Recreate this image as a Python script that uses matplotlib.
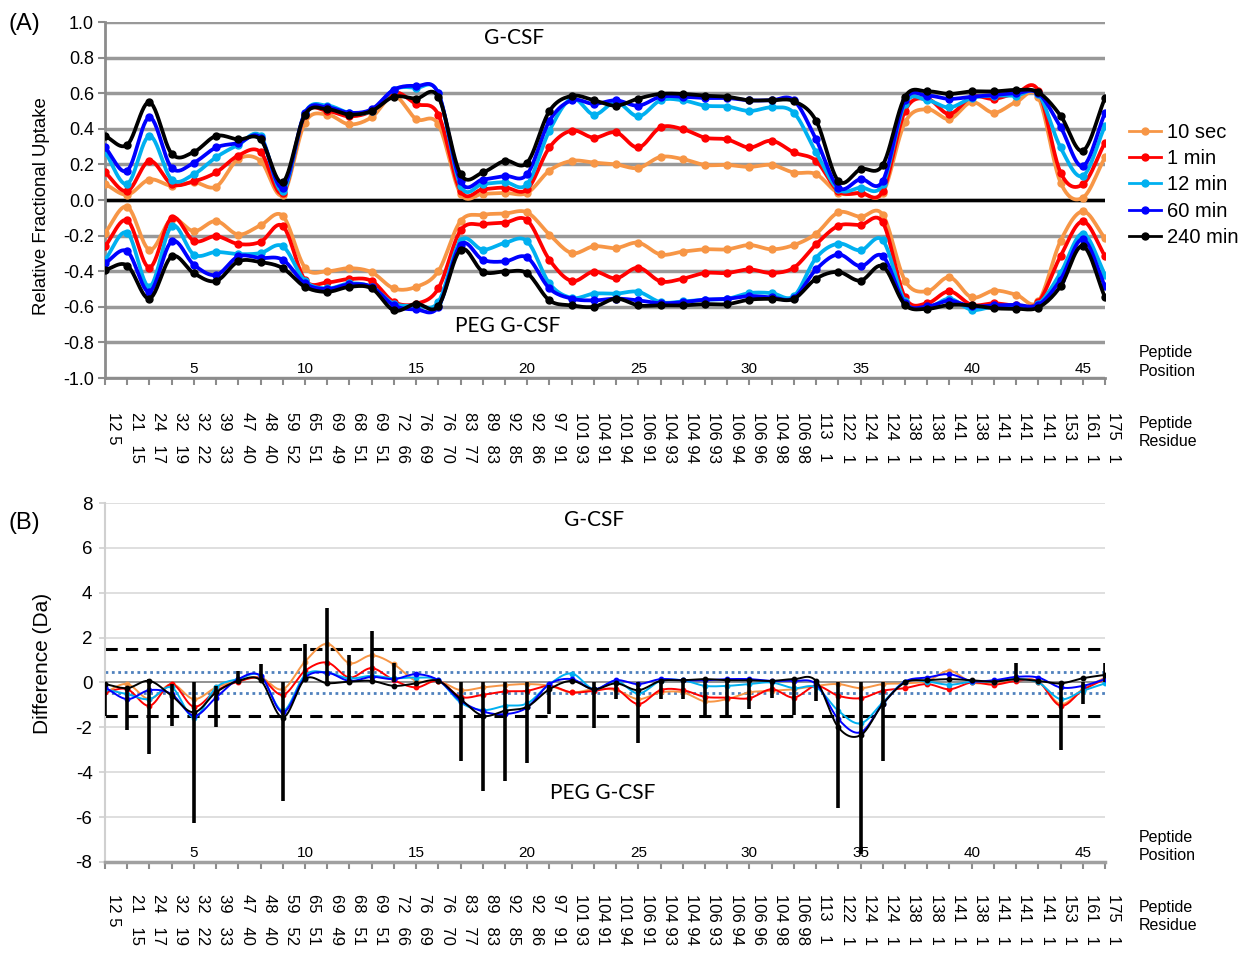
import numpy as np
import matplotlib
matplotlib.use("Agg")
import matplotlib.pyplot as plt
from matplotlib.lines import Line2D
from matplotlib.ticker import FormatStrFormatter

plt.rcParams["font.family"] = ["Liberation Sans", "DejaVu Sans"]

# -----------------------------
# DATA
# -----------------------------
positions = np.arange(1, 47)
position_ticks = [5, 10, 15, 20, 25, 30, 35, 40, 45]

residue_labels = [
    "12 5", "21   15", "24   17", "32   19", "32   22", "39   33", "47   40", "48   40",
    "59   52", "65   51", "69   49", "68   51", "69   51", "72   66", "76   69", "76   70",
    "83   77", "89   83", "92   85", "92   86", "97   91", "101 93", "104 91", "101 94",
    "106 91", "104 93", "104 94", "106 93", "106 94", "106 96", "104 98", "106 98",
    "113   1", "122   1", "124   1", "124   1", "138   1", "138   1", "141   1",
    "138   1", "141   1", "141   1", "141   1", "153   1", "161   1", "175   1",
]

series_names = ["10 sec", "1 min", "12 min", "60 min", "240 min"]
series_colors = ["#F79646", "#FF0000", "#00B0F0", "#0000FF", "#000000"]

# (A) relative fractional uptake, G-CSF (positive side)
gcsf_10s = [0.09, 0.03, 0.115, 0.08, 0.10, 0.075, 0.23, 0.22, 0.03, 0.435, 0.48, 0.425,
            0.465, 0.585, 0.455, 0.425, 0.035, 0.035, 0.04, 0.04, 0.165, 0.22, 0.21, 0.20,
            0.18, 0.242, 0.23, 0.197, 0.197, 0.186, 0.197, 0.154, 0.145, 0.04, 0.04, 0.04,
            0.436, 0.51, 0.455, 0.55, 0.49, 0.55, 0.577, 0.098, 0.013, 0.24]
gcsf_1m = [0.155, 0.05, 0.22, 0.09, 0.105, 0.155, 0.25, 0.27, 0.04, 0.48, 0.50, 0.47,
           0.50, 0.605, 0.54, 0.48, 0.05, 0.06, 0.07, 0.06, 0.295, 0.39, 0.35, 0.38,
           0.295, 0.408, 0.398, 0.35, 0.34, 0.295, 0.333, 0.267, 0.22, 0.05, 0.04, 0.05,
           0.50, 0.568, 0.483, 0.58, 0.568, 0.60, 0.615, 0.154, 0.088, 0.323]
gcsf_12m = [0.27, 0.09, 0.36, 0.115, 0.145, 0.24, 0.31, 0.36, 0.05, 0.49, 0.53, 0.49,
            0.50, 0.62, 0.63, 0.60, 0.08, 0.09, 0.10, 0.09, 0.39, 0.57, 0.48, 0.55,
            0.47, 0.56, 0.56, 0.53, 0.525, 0.50, 0.52, 0.49, 0.267, 0.06, 0.07, 0.088,
            0.54, 0.56, 0.52, 0.573, 0.586, 0.586, 0.596, 0.295, 0.135, 0.417]
gcsf_60m = [0.295, 0.165, 0.465, 0.18, 0.21, 0.295, 0.32, 0.35, 0.07, 0.49, 0.52, 0.49,
            0.51, 0.62, 0.64, 0.60, 0.105, 0.115, 0.135, 0.145, 0.445, 0.56, 0.54, 0.56,
            0.53, 0.58, 0.58, 0.573, 0.573, 0.56, 0.56, 0.56, 0.34, 0.07, 0.117, 0.107,
            0.56, 0.586, 0.568, 0.58, 0.59, 0.60, 0.60, 0.41, 0.19, 0.49]
gcsf_240m = [0.36, 0.31, 0.55, 0.26, 0.27, 0.36, 0.34, 0.34, 0.10, 0.48, 0.51, 0.48,
             0.50, 0.58, 0.57, 0.58, 0.145, 0.155, 0.22, 0.21, 0.50, 0.585, 0.56, 0.53,
             0.57, 0.596, 0.596, 0.586, 0.58, 0.56, 0.56, 0.555, 0.445, 0.107, 0.173, 0.197,
             0.58, 0.61, 0.596, 0.61, 0.61, 0.618, 0.605, 0.474, 0.276, 0.573]

# (A) relative fractional uptake, PEG G-CSF (plotted negative)
peg_10s = [-0.184, -0.038, -0.28, -0.108, -0.175, -0.118, -0.194, -0.142, -0.089, -0.38,
           -0.40, -0.383, -0.406, -0.497, -0.488, -0.40, -0.118, -0.083, -0.076, -0.07,
           -0.194, -0.298, -0.26, -0.27, -0.24, -0.306, -0.29, -0.277, -0.277, -0.253,
           -0.277, -0.253, -0.189, -0.07, -0.094, -0.083, -0.453, -0.513, -0.434, -0.547,
           -0.509, -0.532, -0.57, -0.23, -0.064, -0.215]
peg_1m = [-0.26, -0.114, -0.38, -0.099, -0.23, -0.203, -0.247, -0.235, -0.146, -0.45,
          -0.463, -0.444, -0.455, -0.573, -0.583, -0.497, -0.171, -0.137, -0.127, -0.114,
          -0.336, -0.455, -0.402, -0.44, -0.38, -0.457, -0.442, -0.41, -0.41, -0.39,
          -0.41, -0.38, -0.249, -0.145, -0.14, -0.126, -0.547, -0.58, -0.513, -0.589,
          -0.58, -0.592, -0.574, -0.315, -0.12, -0.315]
peg_12m = [-0.336, -0.184, -0.488, -0.146, -0.307, -0.292, -0.304, -0.298, -0.26, -0.455,
           -0.497, -0.469, -0.488, -0.583, -0.592, -0.573, -0.228, -0.279, -0.241, -0.232,
           -0.469, -0.55, -0.526, -0.526, -0.516, -0.574, -0.57, -0.56, -0.555, -0.523,
           -0.523, -0.54, -0.325, -0.245, -0.283, -0.226, -0.57, -0.607, -0.555, -0.617,
           -0.598, -0.598, -0.585, -0.41, -0.189, -0.419]
peg_60m = [-0.355, -0.288, -0.516, -0.232, -0.364, -0.421, -0.317, -0.326, -0.336, -0.469,
           -0.50, -0.474, -0.488, -0.592, -0.615, -0.60, -0.25, -0.336, -0.345, -0.323,
           -0.497, -0.554, -0.564, -0.554, -0.564, -0.58, -0.574, -0.56, -0.555, -0.54,
           -0.547, -0.55, -0.39, -0.306, -0.372, -0.315, -0.58, -0.598, -0.566, -0.598,
           -0.592, -0.589, -0.589, -0.447, -0.22, -0.485]
peg_240m = [-0.393, -0.368, -0.554, -0.317, -0.412, -0.455, -0.345, -0.349, -0.383, -0.488,
            -0.516, -0.488, -0.497, -0.62, -0.583, -0.596, -0.279, -0.402, -0.402, -0.412,
            -0.564, -0.592, -0.60, -0.554, -0.592, -0.592, -0.592, -0.585, -0.585, -0.56,
            -0.555, -0.555, -0.442, -0.404, -0.453, -0.372, -0.589, -0.611, -0.589, -0.592,
            -0.608, -0.611, -0.604, -0.485, -0.258, -0.547]

# (B) deuterium uptake difference (Da)
diff_10s = [-0.44, -0.07, -0.74, -0.07, -0.74, -0.22, 0.07, 0.22, -0.30, 0.93, 1.73, 0.86,
            1.21, 0.81, 0.07, 0.07, -0.34, -0.22, -0.12, -0.07, -0.15, -0.44, -0.30, -0.34,
            -0.74, -0.44, -0.44, -0.84, -0.74, -0.44, -0.37, -0.30, -0.15, -0.07, -0.25,
            -0.07, -0.04, 0.07, 0.52, 0.0, 0.0, 0.10, 0.04, -0.96, -0.30, 0.22]
diff_1m = [-0.44, -0.30, -1.04, -0.07, -1.08, -0.37, 0.04, 0.19, -0.55, 0.52, 0.89, 0.22,
           0.64, 0.10, -0.22, 0.07, -0.64, -0.55, -0.40, -0.37, -0.15, -0.44, -0.37, -0.30,
           -0.96, -0.34, -0.34, -0.64, -0.67, -0.70, -0.30, -0.67, -0.15, -0.59, -0.70,
           -0.37, -0.25, -0.07, -0.30, 0.0, -0.10, 0.07, 0.04, -1.04, -0.34, 0.15]
diff_12m = [-0.30, -0.52, -0.74, -0.22, -1.56, -0.22, 0.15, 0.30, -1.26, 0.33, 0.44, 0.18,
            0.30, 0.19, 0.22, 0.10, -0.89, -1.23, -1.04, -0.93, -0.07, 0.40, -0.30, 0.07,
            -0.49, 0.07, 0.10, -0.15, -0.15, -0.07, 0.0, -0.25, -0.22, -1.26, -1.82, -0.89,
            0.04, 0.04, -0.10, 0.04, 0.04, 0.15, 0.0, -0.74, -0.37, -0.04]
diff_60m = [-0.22, -0.74, -0.34, -0.52, -1.48, -0.67, 0.15, 0.30, -1.33, 0.22, 0.44, 0.07,
            0.25, 0.15, 0.37, 0.10, -0.81, -1.29, -1.41, -1.11, -0.07, 0.15, -0.30, 0.10,
            -0.07, 0.15, 0.10, 0.10, 0.15, 0.15, 0.07, 0.07, -0.07, -1.63, -2.22, -0.96,
            0.04, 0.22, 0.37, 0.07, 0.10, 0.25, 0.22, -0.22, -0.15, 0.15]
diff_240m = [-0.07, -0.25, 0.07, -0.59, -1.33, -0.44, 0.07, 0.10, -1.56, 0.15, -0.03, 0.04,
             0.07, -0.15, -0.04, 0.07, -0.74, -1.48, -1.26, -1.08, -0.30, 0.07, -0.30, -0.04,
             -0.34, 0.07, 0.10, 0.15, 0.10, 0.10, 0.07, 0.15, 0.07, -2.0, -2.35, -0.96,
             0.0, 0.10, 0.15, 0.10, 0.04, 0.15, 0.07, -0.04, 0.19, 0.34]

# (B) error bar extents per peptide (nan = no bar drawn)
nan = np.nan
err_low = [-1.48, -2.1, -3.2, -1.95, -6.25, -2.0, 0, 0, -5.3, 0, 0, 0, 0, 0, nan, nan,
           -3.5, -4.85, -4.4, -3.6, -1.4, nan, -2.05, -0.74, -2.7, -0.74, -0.74, -1.48,
           -1.48, -1.19, -0.67, -1.44, -0.81, -5.6, -7.64, -3.48, nan, nan, nan, nan, nan,
           0, nan, -3.03, -0.96, 0]
err_high = [-0.07, -0.25, 0.15, -0.07, 0, -0.15, 0.52, 0.84, 0, 1.7, 3.33, 1.23, 2.3, 0.89,
            nan, nan, 0, 0, 0, 0, -0.1, nan, 0, 0, 0, 0, 0, 0, 0, 0, 0, 0, 0, 0, 0, 0,
            nan, nan, nan, nan, nan, 0.89, nan, 0, 0, 0.89]

significance_outer = 1.5
significance_inner = 0.45

W, H = 1246, 963
AXIS_GRAY = "#8c8c8c"


def catmull_rom(x, y, n=12):
    # smooth curve through the points, like the spreadsheet "smoothed line" option
    x = np.asarray(x, float)
    y = np.asarray(y, float)
    xp = np.concatenate([[2 * x[0] - x[1]], x, [2 * x[-1] - x[-2]]])
    yp = np.concatenate([[2 * y[0] - y[1]], y, [2 * y[-1] - y[-2]]])
    t = np.linspace(0, 1, n, endpoint=False)[:, None]

    def spline(p):
        p0, p1, p2, p3 = p[:-3], p[1:-2], p[2:-1], p[3:]
        return 0.5 * (2 * p1 + (-p0 + p2) * t + (2 * p0 - 5 * p1 + 4 * p2 - p3) * t ** 2
                      + (-p0 + 3 * p1 - 3 * p2 + p3) * t ** 3)

    xs = np.append(spline(xp).T.ravel(), x[-1])
    ys = np.append(spline(yp).T.ravel(), y[-1])
    return xs, ys


def draw_series(ax, y, color, lw, ms):
    xs, ys = catmull_rom(positions, y)
    ax.plot(xs, ys, color=color, lw=lw, solid_capstyle="round", solid_joinstyle="round", zorder=3)
    ax.plot(positions, y, "o", color=color, ms=ms, zorder=3)


def style_position_axis(ax, tick_pad, label_y):
    ax.set_xlim(1, 46)
    ax.set_xticks(positions, minor=True)
    ax.set_xticks(position_ticks)
    ax.set_xticklabels([str(p) for p in position_ticks])
    ax.tick_params(axis="x", which="both", direction="out", length=5, width=1.5, color=AXIS_GRAY)
    ax.tick_params(axis="x", which="major", labelsize=11, pad=tick_pad)
    ax.spines["top"].set_visible(False)
    ax.spines["right"].set_visible(False)
    for i, lab in enumerate(residue_labels):
        ax.text(positions[i] + 0.4, label_y, lab, rotation=-90, ha="center", va="top",
                fontsize=12, transform=ax.get_xaxis_transform(), clip_on=False)


fig = plt.figure(figsize=(W / 100, H / 100), dpi=100)

# -----------------------------
# (A) relative fractional uptake
# -----------------------------
axA = fig.add_axes([105 / W, 1 - 378 / H, 1000 / W, 356 / H])
gcsf_series = [gcsf_10s, gcsf_1m, gcsf_12m, gcsf_60m, gcsf_240m]
peg_series = [peg_10s, peg_1m, peg_12m, peg_60m, peg_240m]
for up, down, color in zip(gcsf_series, peg_series, series_colors):
    draw_series(axA, up, color, lw=2.7, ms=5)
    draw_series(axA, down, color, lw=2.7, ms=5)

axA.set_ylim(-1, 1)
axA.set_yticks(np.round(np.linspace(-1.0, 1.0, 11), 1) + 0.0)
axA.yaxis.set_major_formatter(FormatStrFormatter("%.1f"))
axA.grid(axis="y", color="#999999", lw=2.5)
axA.set_axisbelow(True)
axA.axhline(0, color="black", lw=2.5, zorder=2)
axA.tick_params(axis="y", direction="out", length=5, width=1.5, color=AXIS_GRAY, labelsize=13, pad=3)
axA.spines["left"].set_color(AXIS_GRAY)
axA.spines["left"].set_linewidth(2)
axA.spines["bottom"].set_color(AXIS_GRAY)
axA.spines["bottom"].set_linewidth(2)
style_position_axis(axA, tick_pad=-16.5, label_y=-0.095)

axA.text(19.4, 0.91, "G-CSF", ha="center", va="center", fontsize=15, family="Lato")
axA.text(19.1, -0.71, "PEG G-CSF", ha="center", va="center", fontsize=15, family="Lato")

handles = [Line2D([], [], color=c, lw=2, marker="o", ms=5) for c in series_colors]
fig.legend(handles, series_names, loc="upper left", bbox_to_anchor=(1129 / W, 1 - 123 / H),
           frameon=False, fontsize=14.5, handlelength=1.6, handletextpad=0.3,
           labelspacing=0.36, borderaxespad=0, borderpad=0)

# -----------------------------
# (B) uptake difference
# -----------------------------
axB = fig.add_axes([105 / W, 1 - 862 / H, 1000 / W, 359 / H])
err_low = np.asarray(err_low)
err_high = np.asarray(err_high)
has_bar = ~np.isnan(err_low)
axB.vlines(positions[has_bar], err_low[has_bar], err_high[has_bar], color="black", lw=2.6, zorder=4)

diff_series = [diff_10s, diff_1m, diff_12m, diff_60m, diff_240m]
for vals, color in zip(diff_series, series_colors):
    draw_series(axB, vals, color, lw=1.4, ms=3.2)

for lev in (significance_outer, -significance_outer):
    axB.axhline(lev, color="black", lw=2.2, ls=(0, (4, 2.7)), zorder=2)
for lev in (significance_inner, -significance_inner):
    axB.axhline(lev, color="#4F81BD", lw=2.0, ls=(0, (1, 1.3)), zorder=2)

axB.set_ylim(-8, 8)
axB.set_yticks(np.arange(-8, 9, 2))
axB.yaxis.set_major_formatter(FormatStrFormatter("%d"))
axB.grid(axis="y", color="#d9d9d9", lw=1.2)
axB.set_axisbelow(True)
axB.axhline(0, color=AXIS_GRAY, lw=1.3, zorder=1)
axB.tick_params(axis="y", direction="out", length=4, width=1.2, color="#d0d0d0", labelsize=13.5, pad=5)
axB.spines["left"].set_color("#d0d0d0")
axB.spines["left"].set_linewidth(1.5)
axB.spines["bottom"].set_color("#a0a0a0")
axB.spines["bottom"].set_linewidth(2.5)
style_position_axis(axB, tick_pad=-16.5, label_y=-0.09)

axB.text(23.0, 7.24, "G-CSF", ha="center", va="center", fontsize=15, family="Lato")
axB.text(23.4, -4.92, "PEG G-CSF", ha="center", va="center", fontsize=15, family="Lato")

# -----------------------------
# labels around the panels
# -----------------------------
fig.text(8 / W, 1 - 24 / H, "(A)", fontsize=17, va="center", ha="left")
fig.text(8 / W, 1 - 523 / H, "(B)", fontsize=17, va="center", ha="left")
fig.text(42 / W, 1 - 206 / H, "Relative Fractional Uptake", rotation=90, fontsize=13.4,
         va="center", ha="center")
fig.text(42 / W, 1 - 663 / H, "Difference (Da)", rotation=90, fontsize=15,
         va="center", ha="center")
for y in (362, 846):
    fig.text(1139 / W, 1 - y / H, "Peptide\nPosition", fontsize=11.5, va="center", ha="left",
             linespacing=1.25)
for y in (432, 916):
    fig.text(1139 / W, 1 - y / H, "Peptide\nResidue", fontsize=11.5, va="center", ha="left",
             linespacing=1.25)

fig.savefig("out.png", dpi=100)
